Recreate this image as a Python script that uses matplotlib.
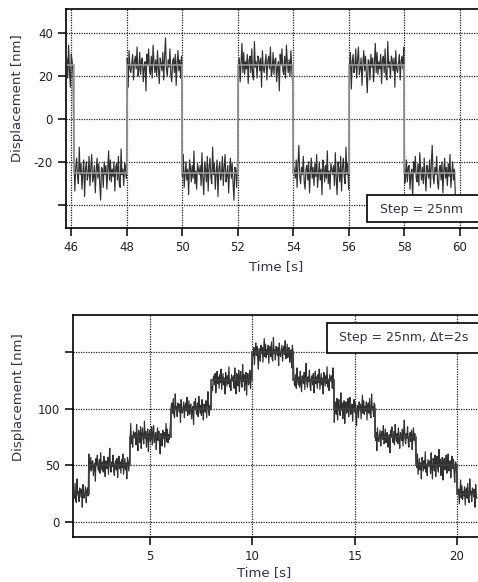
import matplotlib
matplotlib.use("Agg")
import matplotlib.pyplot as plt
from matplotlib.patches import Rectangle
import numpy as np

# ---------------- data ----------------
# Top panel: square-wave steps (segment boundaries in s, level in nm per segment)
top_edges = [45.85, 46.1, 48.0, 50.0, 52.0, 54.0, 56.0, 58.0, 59.85]
top_levels = [25, -25, 25, -25, 25, -25, 25, -25]
top_xticks = [46, 48, 50, 52, 54, 56, 58, 60]
top_yticks = [-40, -20, 0, 20, 40]
top_ylabels = ["", "-20", "0", "20", "40"]

# Bottom panel: staircase steps of 25 nm every 2 s
bot_edges = [1.3, 2.0, 4.0, 6.0, 8.0, 10.0, 12.0, 14.0, 16.0, 18.0, 20.0, 21.0]
bot_levels = [25, 50, 75, 100, 125, 150, 125, 100, 75, 50, 25]
bot_xticks = [5, 10, 15, 20]
bot_yticks = [0, 50, 100, 150]
bot_ylabels = ["0", "50", "100", ""]

# hand-typed fluctuation pattern (relative units) used as trace texture
noise_pattern = [0.4, -0.7, 1.1, -0.3, -1.2, 0.6, 0.2, -0.5, 0.9, -1.0,
                 0.3, 0.8, -0.2, -0.6, 1.4, -0.1, 0.5, -0.9, 0.0, 0.7,
                 -1.3, 0.2, 0.6, -0.4, -0.1, 0.9, -0.7, 0.3, 1.0, -0.5,
                 -0.2, 0.4, -1.1, 0.1, 0.8, -0.3, 0.5, -0.6, -1.5, 0.3,
                 0.2, -0.8, 0.6, -0.1, 0.4, -0.9, 0.1, 1.2, -0.4, 0.7,
                 -0.5, 0.2, -0.2, 0.6, -1.0, 0.3, 0.5, -0.4, 0.9, -0.6,
                 -0.8, 1.3, -0.1, 0.2, -0.7, 0.5, 0.3, -0.3, 0.4, -1.2,
                 0.8, -0.2, -0.4, 0.1, 0.6, -0.8, 0.2, 0.5, -0.2, 1.0,
                 -0.6, -0.3, 0.7, -0.5, 0.3, 0.4, -0.9, -0.1, 0.2, -1.4,
                 0.6, 0.0, 0.9, -0.3, -0.5, 0.5, -0.7, 1.1, 0.2, -0.4,
                 0.3, -0.6, 0.8, -0.2, -1.0, 0.4, 0.1, -0.3, 0.7, -0.8,
                 0.5, 1.5, -0.2, -0.6, 0.3, -0.1, 0.9, -0.5, -0.9, 0.2,
                 0.4, -0.4, 0.6, -1.1, 0.1, 0.8, -0.3, 0.3, -0.7, 0.5,
                 -0.2, 1.0, -0.8, -0.1, 0.6, -0.4, 0.2, -1.2, 0.7, 0.3,
                 -0.5, 0.4, -0.3, 1.2, -0.6, 0.1, -0.9, 0.5, 0.2, -0.1]
top_noise_amp = 8.5
bot_noise_amp = 10.0
sample_dt = 0.032

W, H = 478, 582
LABEL_COLOR = "#3a2f4a"
TICK_COLOR = "#222222"


def build_trace(edges, levels, amp, offset):
    t = np.arange(edges[0], edges[-1], sample_dt)
    seg = np.clip(np.searchsorted(edges, t, side="right") - 1, 0, len(levels) - 1)
    base = np.asarray(levels, dtype=float)[seg]
    pat = np.asarray(noise_pattern)
    idx = (np.arange(len(t)) + offset) % len(pat)
    return t, base + amp * pat[idx]


def px_axes(fig, l, t, r, b):
    return fig.add_axes([l / W, 1 - b / H, (r - l) / W, (b - t) / H])


fig = plt.figure(figsize=(W / 100, H / 100), dpi=100)
plt.rcParams["font.family"] = ["DejaVu Sans"]


def style_axes(ax, xticks, yticks, ylabels):
    ax.spines["right"].set_visible(False)
    for s in ("left", "bottom", "top"):
        ax.spines[s].set_linewidth(1.2)
        ax.spines[s].set_color("black")
    ax.set_xticks(xticks)
    ax.set_xticklabels([str(v) for v in xticks])
    ax.set_yticks(yticks)
    ax.set_yticklabels(ylabels)
    ax.tick_params(axis="both", direction="out", length=6, width=1.1,
                   labelsize=8.5, labelcolor=TICK_COLOR, color="black")
    ax.grid(True, linestyle=(0, (1, 1)), color="#222222", linewidth=0.9)
    ax.set_axisbelow(True)


# ---------------- top panel ----------------
ax1 = px_axes(fig, 66, 9, 478, 228)
t1, y1 = build_trace(top_edges, top_levels, top_noise_amp, 0)
ax1.plot(t1, y1, color="#303030", linewidth=0.85, zorder=3)
ax1.stairs(top_levels, top_edges, baseline=None, color="#999999",
           linewidth=1.2, zorder=4)
ax1.set_xlim(45.82, 60.65)
ax1.set_ylim(-50.7, 51.2)
style_axes(ax1, top_xticks, top_yticks, top_ylabels)

# ---------------- bottom panel ----------------
ax2 = px_axes(fig, 73, 315, 478, 537)
t2, y2 = build_trace(bot_edges, bot_levels, bot_noise_amp, 57)
ax2.plot(t2, y2, color="#303030", linewidth=0.85, zorder=3)
ax2.stairs(bot_levels, bot_edges, baseline=None, color="#404040",
           linewidth=1.2, zorder=4)
ax2.set_xlim(1.23, 21.03)
ax2.set_ylim(-13.3, 182.7)
style_axes(ax2, bot_xticks, bot_yticks, bot_ylabels)

# ---------------- axis labels ----------------
fig.text(18 / W, 1 - 98 / H, "Displacement [nm]", rotation=90, ha="center",
         va="center", fontsize=9.5, color=LABEL_COLOR)
fig.text(19 / W, 1 - 397 / H, "Displacement [nm]", rotation=90, ha="center",
         va="center", fontsize=9.5, color=LABEL_COLOR)
fig.text(276 / W, 1 - 267 / H, "Time [s]", ha="center", va="center",
         fontsize=9.5, color=LABEL_COLOR)
fig.text(264 / W, 1 - 573 / H, "Time [s]", ha="center", va="center",
         fontsize=9.5, color=LABEL_COLOR)

# ---------------- annotation boxes ----------------
def box(l, t, r, b, text, cx, cy):
    fig.add_artist(Rectangle((l / W, 1 - b / H), (r - l) / W, (b - t) / H,
                             transform=fig.transFigure, facecolor="white",
                             edgecolor="black", linewidth=1.2, zorder=10))
    fig.text(cx / W, 1 - cy / H, text, ha="center", va="center",
             fontsize=9, color=LABEL_COLOR, zorder=11)


box(367, 195, 480, 222, "Step = 25nm", 422, 209)
box(327, 323, 480, 353, "Step = 25nm, \u0394t=2s", 404, 337)

fig.savefig("out.png", dpi=100)
